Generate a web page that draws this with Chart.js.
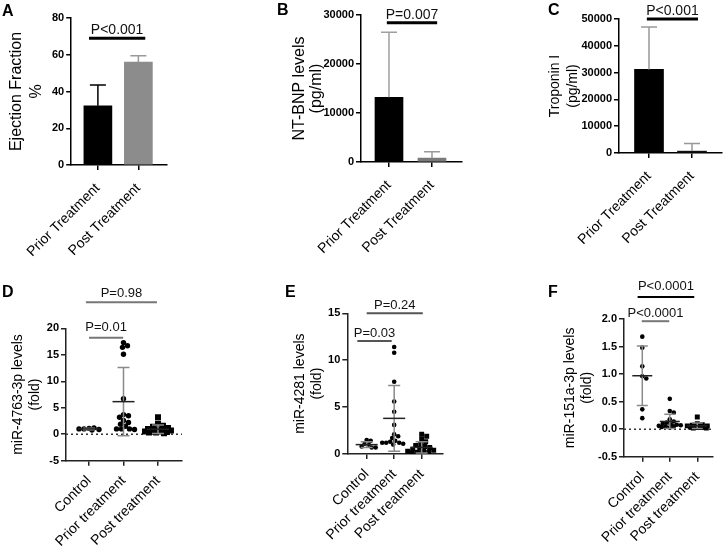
<!DOCTYPE html>
<html><head><meta charset="utf-8">
<script src="https://cdn.jsdelivr.net/npm/chart.js@4"></script>
<style>
body{margin:0;background:#fff;}
#wrap{position:relative;width:724px;height:547px;background:#fff;overflow:hidden;}
canvas{position:absolute;}
.lbl{position:absolute;font:bold 16px "Liberation Sans",Arial,sans-serif;color:#000;line-height:16px;}
</style></head><body><div id="wrap">
<canvas id="cA" width="240" height="270" style="left:0px;top:0px"></canvas>
<canvas id="cB" width="240" height="270" style="left:240px;top:0px"></canvas>
<canvas id="cC" width="244" height="270" style="left:480px;top:0px"></canvas>
<canvas id="cD" width="240" height="277" style="left:0px;top:270px"></canvas>
<canvas id="cE" width="240" height="277" style="left:240px;top:270px"></canvas>
<canvas id="cF" width="244" height="277" style="left:480px;top:270px"></canvas>
<div class="lbl" style="left:2px;top:3px">A</div>
<div class="lbl" style="left:277px;top:2px">B</div>
<div class="lbl" style="left:548px;top:2px">C</div>
<div class="lbl" style="left:2px;top:284px">D</div>
<div class="lbl" style="left:285px;top:284px">E</div>
<div class="lbl" style="left:548px;top:284px">F</div>
</div>
<script>
// ---------------- DATA ----------------
const treatmentCategories = ['Prior Treatment', 'Post Treatment'];
const groupCategories = ['Control', 'Prior treatment', 'Post treatment'];

const efMean = [32.2, 56.0];
const efSD = [11.3, 3.5];
const efTicks = [0, 20, 40, 60, 80];

const bnpMean = [13200, 800];
const bnpSD = [13300, 1300];
const bnpTicks = [0, 10000, 20000, 30000];

const tropMean = [31200, 700];
const tropSD = [15800, 2800];
const tropTicks = [0, 10000, 20000, 30000, 40000, 50000];

const mir4763Control = [1.1, 1.2, 1.0, 0.9, 1.0, 0.8];
const mir4763Prior = [17.3, 16.7, 16.4, 15.1, 6.7, 3.7, 3.5, 3.2, 2.6, 2.2, 1.9, 1.5, 1.0, 1.0, 1.0, 0.9];
const mir4763Post = [3.2, 2.0, 1.6, 1.4, 1.2, 1.0, 0.9, 0.8, 0.7, 0.6, 0.5, 0.5, 0.4, 0.3, 0.3, 0.2];
const mir4763Mean = [1.0, 6.15, 0.95];
const mir4763SD = [0.15, 6.45, 0.8];
const mir4763Ticks = [-5, 0, 5, 10, 15, 20];

const mir4281Control = [1.5, 1.4, 1.1, 1.0, 0.8, 0.7, 0.7];
const mir4281Prior = [11.4, 10.8, 7.7, 5.6, 4.5, 3.1, 2.1, 1.9, 1.7, 1.4, 1.3, 1.2, 1.2, 1.1, 1.0, 1.2];
const mir4281Post = [2.1, 1.9, 1.6, 1.3, 1.1, 0.9, 0.8, 0.7, 0.6, 0.5, 0.4, 0.3, 0.3, 0.2, 0.2, 0.1, 0.1];
const mir4281Mean = [1.0, 3.8, 0.7];
const mir4281SD = [0.3, 3.5, 0.6];
const mir4281Ticks = [0, 5, 10, 15];

const mir151Control = [1.68, 1.48, 1.14, 0.96, 0.92, 0.36, 0.20];
const mir151Prior = [0.55, 0.33, 0.30, 0.18, 0.14, 0.12, 0.10, 0.09, 0.08, 0.07, 0.06, 0.05, 0.05, 0.04, 0.03];
const mir151Post = [0.22, 0.10, 0.08, 0.07, 0.06, 0.06, 0.05, 0.05, 0.04, 0.04, 0.03, 0.03, 0.02, 0.02];
const mir151Mean = [0.97, 0.14, 0.06];
const mir151SD = [0.54, 0.13, 0.05];
const mir151Ticks = [-0.5, 0, 0.5, 1.0, 1.5, 2.0];

// significance annotations (group index spans, bracket level in data units, label)
const sigA = [{from: 0.78, to: 2.17, at: 69, text: 'P<0.001'}];
const sigB = [{from: 0.95, to: 2.12, at: 28400, text: 'P=0.007'}];
const sigC = [{from: 0.95, to: 2.14, at: 50000, text: 'P<0.001'}];
const sigD = [{from: 1.0, to: 1.99, at: 18.2, text: 'P=0.01'}, {from: 0.91, to: 2.97, at: 24.9, text: 'P=0.98'}];
const sigE = [{from: 0.66, to: 1.91, at: 12.05, text: 'P=0.03'}, {from: 1.0, to: 3.04, at: 15.0, text: 'P=0.24'}];
const sigF = [{from: 0.98, to: 1.98, at: 1.96, text: 'P<0.0001'}, {from: 0.83, to: 2.89, at: 2.4, text: 'P<0.0001'}];

// ---------------- LAYOUT / STYLE ----------------
const FONT = '"Liberation Sans", Arial, sans-serif';
const layoutA = {w:240, h:270, area:{l:70, t:18, r:167, b:165}, titleX:15, titleSize:16, titleLH:20, xMin:0.341, xMax:2.707, labelPad:10};
const layoutB = {w:240, h:270, area:{l:121, t:15, r:222, b:162}, titleX:60, titleSize:16, titleLH:17, xMin:0.349, xMax:2.698, labelPad:10};
const layoutC = {w:244, h:270, area:{l:139, t:19, r:242, b:153}, titleX:75, titleSize:14, titleLH:18, xMin:0.302, xMax:2.698, labelPad:10};
const layoutD = {w:240, h:277, area:{l:66, t:58.3, r:182, b:190.7}, titleX:18, titleSize:14, titleLH:17, xMin:0.333, xMax:3.696, labelPad:7};
const layoutE = {w:240, h:277, area:{l:107.3, t:43.3, r:203, b:184}, titleX:60, titleSize:14, titleLH:17, xMin:0.295, xMax:3.775, labelPad:7};
const layoutF = {w:244, h:277, area:{l:144, t:49, r:233, b:186.7}, titleX:90, titleSize:14, titleLH:17, xMin:0.335, xMax:3.571, labelPad:7};

function scales(L, yMin, yMax, yTicks, yFmt, cats, title, axisColor) {
  const gridX = {offset:false, drawOnChartArea:false, drawTicks:true, tickLength:5, color:axisColor, lineWidth:1.5};
  const gridY = {drawOnChartArea:false, drawTicks:true, tickLength:5, color:axisColor, lineWidth:1.5};
  const border = {display:true, color:axisColor, width:1.5};
  return {
    x: {type:'linear', offset:false, min:L.xMin, max:L.xMax,
      afterBuildTicks: s => { s.ticks = cats.map((c, i) => ({value: i + 1})); },
      afterFit: s => { s.height = L.h - L.area.b; },
      ticks: {autoSkip:false, minRotation:45, maxRotation:45, color:'#000', padding:L.labelPad,
        font:{family:FONT, size:14}, callback: v => cats[Math.round(v) - 1]},
      grid: gridX, border: border},
    y: {min:yMin, max:yMax,
      afterBuildTicks: s => { s.ticks = yTicks.map(v => ({value: v})); },
      afterFit: s => { s.width = L.area.l - (L.titleX - L.titleLH / 2); },
      ticks: {color:'#000', padding:2, font:{family:FONT, size:11, weight:'bold'}, callback: yFmt},
      grid: gridY, border: border,
      title: {display:true, text:title, color:'#000', padding:0,
        font:{family:FONT, size:L.titleSize, lineHeight:L.titleLH / L.titleSize}}}
  };
}

function extras(cfg) {
  return {
    id: 'extras',
    afterDatasetsDraw(chart) {
      const ctx = chart.ctx, xs = chart.scales.x, ys = chart.scales.y;
      ctx.save();
      ctx.lineCap = 'butt';
      (cfg.err || []).forEach(e => {
        e.mean.forEach((m, i) => {
          const x = xs.getPixelForValue(i + 1);
          const y0 = ys.getPixelForValue(m), y1 = ys.getPixelForValue(m + e.sd[i]);
          ctx.strokeStyle = e.colors[i]; ctx.lineWidth = 1.5;
          ctx.beginPath(); ctx.moveTo(x, y0); ctx.lineTo(x, y1);
          ctx.moveTo(x - e.cap / 2, y1); ctx.lineTo(x + e.cap / 2, y1); ctx.stroke();
        });
      });
      (cfg.msd || []).forEach(e => {
        e.mean.forEach((m, i) => {
          const x = xs.getPixelForValue(i + 1);
          const ym = ys.getPixelForValue(m);
          const yu = ys.getPixelForValue(m + e.sd[i]), yl = ys.getPixelForValue(m - e.sd[i]);
          ctx.lineWidth = 1.5;
          ctx.strokeStyle = '#8a8a8a';
          ctx.beginPath(); ctx.moveTo(x, yu); ctx.lineTo(x, yl);
          ctx.moveTo(x - e.cap / 2, yu); ctx.lineTo(x + e.cap / 2, yu);
          ctx.moveTo(x - e.cap / 2, yl); ctx.lineTo(x + e.cap / 2, yl); ctx.stroke();
          ctx.strokeStyle = '#222';
          ctx.beginPath(); ctx.moveTo(x - e.meanW / 2, ym); ctx.lineTo(x + e.meanW / 2, ym); ctx.stroke();
        });
      });
      (cfg.sig || []).forEach((s, k) => {
        const st = cfg.sigStyle[k];
        const x1 = xs.getPixelForValue(s.from), x2 = xs.getPixelForValue(s.to);
        const y = ys.getPixelForValue(s.at);
        ctx.strokeStyle = st.color; ctx.lineWidth = st.lw;
        ctx.beginPath(); ctx.moveTo(x1, y); ctx.lineTo(x2, y); ctx.stroke();
        ctx.fillStyle = '#111';
        ctx.font = st.size + 'px ' + FONT;
        ctx.textAlign = 'center'; ctx.textBaseline = 'alphabetic';
        ctx.fillText(s.text, (x1 + x2) / 2, y - st.gap);
      });
      ctx.restore();
    }
  };
}

const common = {responsive:false, animation:false, events:[],
  plugins:{legend:{display:false}, tooltip:{enabled:false}}};

function barPanel(id, L, mean, sd, ticks, title, colors, errColors, thick, sig, sigStyle) {
  new Chart(document.getElementById(id), {
    type: 'bar',
    data: {datasets: [{data: mean.map((v, i) => ({x: i + 1, y: v})),
      backgroundColor: colors, borderWidth: 0, barThickness: thick}]},
    options: Object.assign({}, common, {
      layout: {padding: {left: L.titleX - L.titleLH / 2, top: L.area.t, right: L.w - L.area.r, bottom: 0}},
      scales: scales(L, ticks[0], ticks[ticks.length - 1], ticks, v => String(v), treatmentCategories, title, '#000')
    }),
    plugins: [extras({err: [{mean: mean, sd: sd, colors: errColors, cap: 16}], sig: sig, sigStyle: sigStyle})]
  });
}

// horizontal spreading of overlapping dots (layout only, values untouched)
function swarm(values, center, r, maxHalf, L, yMin, yMax) {
  const pxY = (L.area.b - L.area.t) / (yMax - yMin);
  const pxX = (L.area.r - L.area.l) / (L.xMax - L.xMin);
  const d = 2 * r, placed = [];
  const cands = [0];
  for (let o = 1; o <= maxHalf; o++) { cands.push(o, -o); }
  return values.map(v => {
    const py = v * pxY;
    let best = 0, bestD = -1;
    for (const off of cands) {
      const md = placed.length ? Math.min(...placed.map(p => Math.hypot(p.x - off, p.y - py))) : 1e9;
      if (md >= d * 0.85) { best = off; bestD = 1e9; break; }
      if (md > bestD) { bestD = md; best = off; }
    }
    placed.push({x: best, y: py});
    return {x: center + best / pxX, y: v};
  });
}

function dotPanel(id, L, groups, mean, sd, ticks, fmt, title, r, rectR, spread, zeroLine, sig, sigStyle, meanW, cap) {
  const yMin = ticks[0], yMax = ticks[ticks.length - 1];
  const ds = groups.map((g, i) => ({
    type: 'scatter',
    data: swarm(g, i + 1, i === 2 ? rectR * 0.75 : r, spread[i], L, yMin, yMax),
    pointStyle: i === 2 ? 'rect' : 'circle',
    pointRadius: i === 2 ? rectR : r,
    backgroundColor: '#000', borderWidth: 0, order: 1
  }));
  if (zeroLine) {
    ds.push({type: 'line', data: [{x: L.xMin, y: 0}, {x: L.xMax, y: 0}], borderColor: '#333',
      borderWidth: 1.5, borderDash: [2, 3], pointRadius: 0, order: 5});
  }
  new Chart(document.getElementById(id), {
    type: 'scatter',
    data: {datasets: ds},
    options: Object.assign({}, common, {
      layout: {padding: {left: L.titleX - L.titleLH / 2, top: L.area.t, right: L.w - L.area.r, bottom: 0}},
      scales: scales(L, yMin, yMax, ticks, fmt, groupCategories, title, '#222')
    }),
    plugins: [extras({msd: [{mean: mean, sd: sd, meanW: meanW, cap: cap}], sig: sig, sigStyle: sigStyle})]
  });
}

barPanel('cA', layoutA, efMean, efSD, efTicks, ['Ejection Fraction', '%'],
  ['#000', '#8c8c8c'], ['#000', '#999'], 28, sigA, [{color:'#000', lw:3, size:14, gap:4}]);
barPanel('cB', layoutB, bnpMean, bnpSD, bnpTicks, ['NT-BNP levels', '(pg/ml)'],
  ['#000', '#7a7a7a'], ['#a0a0a0', '#9a9a9a'], 28, sigB, [{color:'#000', lw:3, size:14, gap:4}]);
barPanel('cC', layoutC, tropMean, tropSD, tropTicks, ['Troponin I', '(pg/ml)'],
  ['#000', '#111'], ['#999', '#999'], 29, sigC, [{color:'#000', lw:3, size:14, gap:4}]);

dotPanel('cD', layoutD, [mir4763Control, mir4763Prior, mir4763Post], mir4763Mean, mir4763SD, mir4763Ticks,
  v => String(v), ['miR-4763-3p levels', '(fold)'], 2.7, 4.2, [11, 16, 13], true, sigD,
  [{color:'#777', lw:2, size:13, gap:7}, {color:'#777', lw:2, size:13, gap:5}], 22, 12);
dotPanel('cE', layoutE, [mir4281Control, mir4281Prior, mir4281Post], mir4281Mean, mir4281SD, mir4281Ticks,
  v => String(v), ['miR-4281 levels', '(fold)'], 2.3, 3.5, [10, 13, 14], false, sigE,
  [{color:'#555', lw:2, size:13, gap:4}, {color:'#555', lw:2, size:13, gap:4}], 22, 12);
dotPanel('cF', layoutF, [mir151Control, mir151Prior, mir151Post], mir151Mean, mir151SD, mir151Ticks,
  v => v.toFixed(1), ['miR-151a-3p levels', '(fold)'], 2.3, 3.5, [8, 12, 10], true, sigF,
  [{color:'#777', lw:2, size:13, gap:4}, {color:'#000', lw:2, size:13, gap:7}], 20, 11);
</script>
</body></html>
